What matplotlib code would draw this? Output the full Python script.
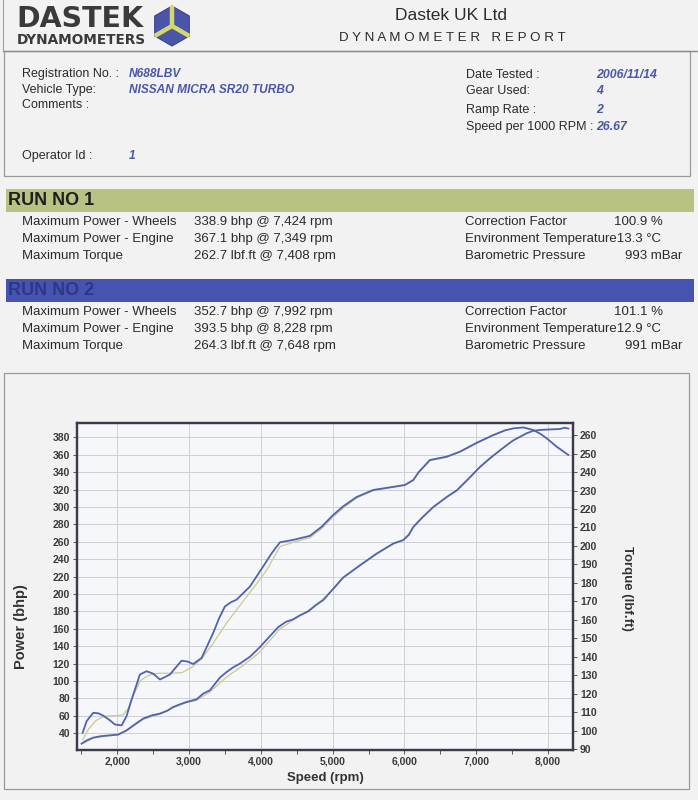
import numpy as np
import matplotlib
matplotlib.use("Agg")
import matplotlib.pyplot as plt
from matplotlib.patches import Rectangle, Polygon
from matplotlib.ticker import FuncFormatter, MultipleLocator

plt.rcParams["font.family"] = ["Liberation Sans", "DejaVu Sans"]

# report header fields
left_fields = ["Registration No. :", "Vehicle Type:", "Comments :", "Operator Id :"]
left_values = ["N688LBV", "NISSAN MICRA SR20 TURBO", "", "1"]
right_fields = ["Date Tested :", "Gear Used:", "Ramp Rate :", "Speed per 1000 RPM :"]
right_values = ["2006/11/14", "4", "2", "26.67"]

# run summaries
stat_labels = ["Maximum Power - Wheels", "Maximum Power - Engine", "Maximum Torque"]
run1_stats = ["338.9 bhp @ 7,424 rpm", "367.1 bhp @ 7,349 rpm", "262.7 lbf.ft @ 7,408 rpm"]
run2_stats = ["352.7 bhp @ 7,992 rpm", "393.5 bhp @ 8,228 rpm", "264.3 lbf.ft @ 7,648 rpm"]
cond_labels = ["Correction Factor", "Environment Temperature", "Barometric Pressure"]
run1_cond = ["100.9 %", "13.3 °C", "993 mBar"]
run2_cond = ["101.1 %", "12.9 °C", "991 mBar"]

# run 2 (blue) curves
rpm2_torque = [1518, 1574, 1666, 1740, 1805, 1890, 1968, 2061, 2130, 2201, 2316, 2409,
               2500, 2595, 2734, 2820, 2897, 2980, 3059, 3176, 3337, 3420, 3500, 3580,
               3663, 3849, 4034, 4150, 4267, 4452, 4685, 4850, 5000, 5149, 5335, 5567,
               5846, 6008, 6124, 6200, 6355, 6589, 6774, 7007, 7239, 7400, 7517, 7657,
               7796, 7900, 7982, 8121, 8283]
torque2 = [99.0, 105.3, 109.8, 109.5, 108.3, 106.0, 103.5, 103.0, 108.0, 117.0, 130.5, 132.3,
           131.0, 127.8, 130.5, 134.5, 138.0, 137.5, 136.2, 139.5, 153.0, 161.0, 167.3, 169.5,
           171.0, 178.1, 189.0, 196.0, 202.0, 203.3, 205.5, 210.5, 216.5, 221.5, 226.5, 230.3,
           232.0, 233.0, 235.7, 240.0, 246.5, 248.3, 251.0, 255.8, 260.0, 262.5, 263.6, 264.1,
           262.7, 260.5, 258.2, 253.7, 249.2]

rpm2_power = [1504, 1580, 1666, 1760, 1852, 2014, 2131, 2250, 2362, 2480, 2595, 2700,
              2780, 2880, 2967, 3106, 3198, 3291, 3431, 3524, 3620, 3709, 3850, 3988,
              4120, 4243, 4350, 4452, 4545, 4661, 4778, 4870, 5009, 5149, 5381, 5614,
              5846, 5985, 6060, 6124, 6250, 6403, 6589, 6729, 6900, 7053, 7200, 7332,
              7450, 7517, 7610, 7700, 7796, 7900, 8028, 8167, 8230, 8283]
power2 = [28.2, 32.0, 35.0, 36.5, 37.3, 38.5, 43.4, 50.5, 56.9, 60.5, 62.6, 66.0,
          70.2, 73.5, 76.0, 79.0, 85.6, 89.4, 104.0, 110.4, 116.0, 120.0, 128.0, 139.0,
          151.0, 162.0, 168.0, 171.0, 175.5, 180.0, 188.0, 193.0, 206.0, 219.0, 233.0, 246.4,
          258.0, 262.0, 268.0, 277.0, 288.0, 300.0, 311.4, 319.0, 333.0, 346.0, 356.5, 365.0,
          372.5, 376.5, 380.5, 384.5, 387.5, 388.5, 389.0, 389.5, 391.0, 390.0]

# run 1 (green) curves
rpm1_torque = [1520, 1600, 1700, 1805, 1900, 2000, 2080, 2150, 2201, 2316, 2409, 2500,
               2595, 2734, 2897, 3000, 3059, 3176, 3337, 3524, 3663, 3803, 3950, 4081,
               4200, 4267, 4452, 4685, 4850, 5000, 5149, 5335, 5567, 5846, 6008, 6124,
               6200, 6355, 6589, 6774, 7007, 7239, 7408]
torque1 = [95.4, 101.0, 105.5, 107.8, 108.2, 108.3, 108.6, 112.0, 117.0, 127.0, 129.5, 130.8,
           131.2, 131.2, 131.5, 133.5, 135.0, 139.0, 147.5, 158.4, 165.5, 172.7, 180.0, 187.0,
           195.0, 199.7, 202.0, 204.5, 209.5, 215.5, 220.5, 226.0, 230.0, 231.8, 232.8, 235.5,
           239.8, 246.0, 248.0, 250.8, 255.5, 259.8, 262.7]

rpm1_power = [1504, 1666, 1852, 2014, 2131, 2362, 2595, 2780, 2967, 3106, 3291, 3524,
              3755, 3988, 4267, 4545, 4778, 5009, 5149, 5381, 5614, 5846, 5985, 6060,
              6124, 6250, 6403, 6589, 6729, 6900, 7053, 7200, 7349]
power1 = [27.5, 34.5, 36.8, 38.3, 43.0, 56.0, 62.0, 69.5, 75.0, 78.0, 87.4, 104.7,
          118.0, 133.4, 160.0, 175.0, 187.5, 205.5, 218.5, 232.5, 246.0, 257.5, 261.5, 267.5,
          276.5, 287.5, 299.5, 311.0, 318.5, 332.5, 345.5, 356.0, 366.8]

PAGE = "#f2f2f2"
INK = "#2b2b2b"
VAL = "#4a56a6"
BLUE = "#5262ad"
GREEN = "#c9ca8c"
BODY = 9.5
INFO = 9.0

fig = plt.figure(figsize=(6.98, 8.0), dpi=100)
fig.patch.set_facecolor(PAGE)

# page layer in pixel coordinates
pg = fig.add_axes([0, 0, 1, 1], zorder=0)
pg.set_xlim(0, 698)
pg.set_ylim(800, 0)
pg.axis("off")

# logo
pg.text(16, 19, "DASTEK", fontsize=20.5, fontweight="bold", family="DejaVu Sans",
        color="#3a3a3a", ha="left", va="center")
pg.text(17, 40, "DYNAMOMETERS", fontsize=9.8, fontweight="bold", family="DejaVu Sans",
        color="#3a3a3a", ha="left", va="center")
cx, cy, r = 172, 26, 20
ang = np.radians([-90, -30, 30, 90, 150, 210])
pg.add_patch(Polygon(np.column_stack([cx + r * np.cos(ang), cy + r * np.sin(ang)]),
                     closed=True, fc="#4a55a8", ec="#3a4490", lw=0.8))
for a in np.radians([-90, 30, 150]):
    pg.plot([cx, cx + r * np.cos(a)], [cy, cy + r * np.sin(a)], color="#d6d66e",
            lw=3.2, solid_capstyle="butt")

pg.text(451, 16, "Dastek UK Ltd", fontsize=12.5, color=INK, ha="center", va="center")
pg.text(452, 38, " ".join("DYNAMOMETER") + "   " + " ".join("REPORT"), fontsize=9.6,
        color=INK, ha="center", va="center")

# header frame and info box
pg.plot([3, 698], [51, 51], color="#8a8a8a", lw=1.0)
pg.plot([3, 3], [0, 51], color="#a0a0a0", lw=0.8)
pg.add_patch(Rectangle((4, 51), 686, 125, fc="none", ec="#9a9a9a", lw=0.9))

for y, f, v in zip([74, 90, 105, 156], left_fields, left_values):
    pg.text(22, y, f, fontsize=INFO, color=INK, va="center")
    pg.text(129, y, v, fontsize=8.6, color=VAL, fontweight="bold", fontstyle="italic", va="center")
for y, f, v in zip([75, 91, 110, 127], right_fields, right_values):
    pg.text(466, y, f, fontsize=INFO, color=INK, va="center")
    pg.text(596, y, v, fontsize=8.8, color=VAL, fontweight="bold", fontstyle="italic", va="center")

# run bands
def run_block(top, title, band, title_col, stats, cond):
    pg.add_patch(Rectangle((6, top), 688, 23, fc=band, ec="none"))
    pg.text(8, top + 11.5, title, fontsize=13, fontweight="bold", color=title_col, va="center")
    for i in range(3):
        y = top + 33 + 17 * i
        pg.text(22, y, stat_labels[i], fontsize=BODY, color=INK, va="center")
        pg.text(194, y, stats[i], fontsize=BODY, color=INK, va="center")
    pg.text(465, top + 33, cond_labels[0], fontsize=BODY, color=INK, va="center")
    pg.text(614, top + 33, cond[0], fontsize=BODY, color=INK, va="center")
    pg.text(465, top + 50, cond_labels[1] + cond[1], fontsize=BODY, color=INK, va="center")
    pg.text(465, top + 67, cond_labels[2], fontsize=BODY, color=INK, va="center")
    pg.text(682, top + 67, cond[2], fontsize=BODY, color=INK, va="center", ha="right")

run_block(189, "RUN NO 1", "#b7c283", "#1e1e1e", run1_stats, run1_cond)
run_block(279, "RUN NO 2", "#4753b0", "#2c3788", run2_stats, run2_cond)

# chart frame
pg.add_patch(Rectangle((4, 373), 685, 416, fc="none", ec="#9a9a9a", lw=0.9))

# dyno chart
L, R, T, B = 77, 573, 423, 750
ax = fig.add_axes([L / 698, 1 - B / 800, (R - L) / 698, (B - T) / 800], zorder=2)
ax.set_facecolor("#f6f7fa")
ax.set_xlim(1440, 8348)
ax.set_ylim(20.8, 396.4)
ax2 = ax.twinx()
ax2.set_ylim(89.7, 266.5)

ax.plot(rpm1_power, power1, color=GREEN, lw=0.9)
ax.plot(rpm2_power, power2, color=BLUE, lw=1.3)
ax2.plot(rpm1_torque, torque1, color=GREEN, lw=0.9)
ax2.plot(rpm2_torque, torque2, color=BLUE, lw=1.3)

ax.xaxis.set_major_locator(MultipleLocator(1000))
ax.xaxis.set_minor_locator(MultipleLocator(500))
ax.xaxis.set_major_formatter(FuncFormatter(lambda v, p: f"{int(v):,}"))
ax.yaxis.set_major_locator(MultipleLocator(20))
ax2.yaxis.set_major_locator(MultipleLocator(10))
ax.grid(True, which="major", color="#cfd0d4", lw=0.7)
ax.set_axisbelow(True)

for a in (ax, ax2):
    a.tick_params(which="both", direction="out", length=3, width=0.7, color="#555555",
                  labelsize=7.5, labelcolor="#3a3a3a", pad=2)
    for s in a.spines.values():
        s.set_color("#3c3c48")
        s.set_linewidth(1.6)
    for lab in a.get_xticklabels() + a.get_yticklabels():
        lab.set_fontweight("bold")

pg.text(21, 627, "Power (bhp)", fontsize=10.5, fontweight="bold", color="#333333",
        rotation=90, ha="center", va="center")
pg.text(627, 588, "Torque (lbf.ft)", fontsize=9.5, fontweight="bold", color="#333333",
        rotation=-90, ha="center", va="center")
pg.text(325, 778, "Speed (rpm)", fontsize=9.5, fontweight="bold", color="#333333",
        ha="center", va="center")

fig.savefig("out.png", dpi=100, facecolor=PAGE)
